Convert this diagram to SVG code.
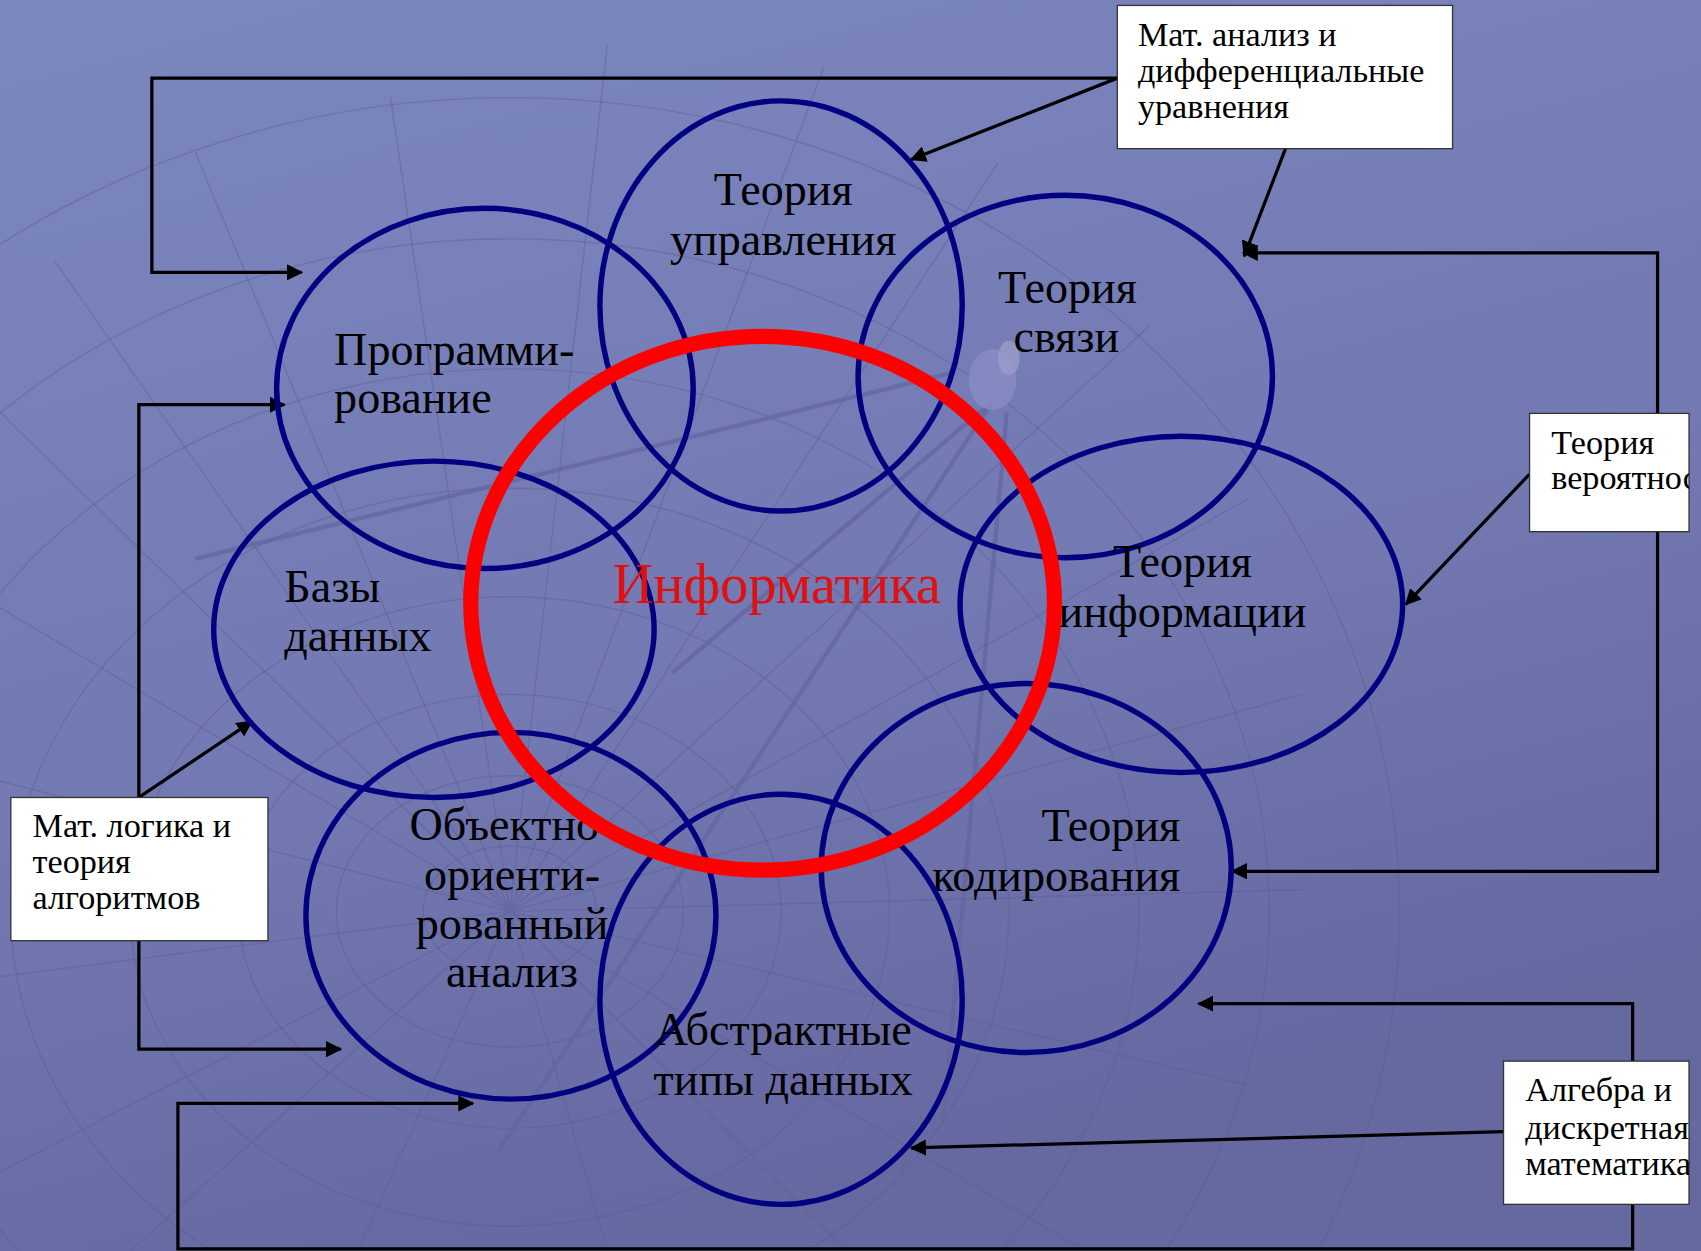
<svg xmlns="http://www.w3.org/2000/svg" width="1701" height="1251" viewBox="0 0 1701 1251">
<defs>
<linearGradient id="bg" x1="0" y1="0" x2="0.35" y2="1">
<stop offset="0" stop-color="#7c87bf"/>
<stop offset="0.6" stop-color="#7379b2"/>
<stop offset="1" stop-color="#6668a0"/>
</linearGradient>
<marker id="ah" viewBox="0 0 10 10" refX="9" refY="5" markerWidth="5" markerHeight="5" orient="auto" markerUnits="strokeWidth">
<path d="M0,0 L10,5 L0,10 z" fill="#000"/>
</marker>
<clipPath id="clipB" clipPathUnits="userSpaceOnUse"><rect x="1410" y="381" width="147" height="109"/></clipPath>
<clipPath id="clipD" clipPathUnits="userSpaceOnUse"><rect x="1386" y="978" width="171" height="132"/></clipPath>
</defs>
<style>
.ell{fill:none;stroke:#000080;stroke-width:5}
.lbl{font-family:"Liberation Serif","Times New Roman",serif;font-size:42.5px;fill:#000}
.box{fill:#fff;stroke:#333;stroke-width:1.2}
.bt{font-family:"Liberation Serif","Times New Roman",serif;font-size:31.5px;fill:#000}
.con{fill:none;stroke:#000;stroke-width:3}
.mesh{fill:none;stroke:#5a5a92;stroke-width:1.3;opacity:0.4}
.beam{fill:none;stroke:#6464a0;stroke-width:4;opacity:0.7}
</style>
<rect x="0" y="0" width="1701" height="1251" fill="url(#bg)"/>
<g transform="scale(1.0848 1.085)">
<g id="background-mesh">
<ellipse class="mesh" cx="470" cy="840" rx="80" ry="60"/>
<ellipse class="mesh" cx="470" cy="840" rx="160" ry="125"/>
<ellipse class="mesh" cx="470" cy="840" rx="250" ry="200"/>
<ellipse class="mesh" cx="470" cy="840" rx="350" ry="290"/>
<ellipse class="mesh" cx="470" cy="840" rx="460" ry="390"/>
<ellipse class="mesh" cx="470" cy="840" rx="580" ry="500"/>
<ellipse class="mesh" cx="470" cy="840" rx="700" ry="620"/>
<ellipse class="mesh" cx="470" cy="840" rx="820" ry="750"/>
<path class="mesh" d="M470,840 L0,380 M470,840 L0,560 M470,840 L0,720 M470,840 L0,900 M470,840 L0,1080 M470,840 L120,1153 M470,840 L330,1153 M470,840 L560,1153 M470,840 L780,1153 M470,840 L1000,1153 M470,840 L1150,1000 M470,840 L1200,820 M470,840 L1200,640 M470,840 L1150,460 M470,840 L1060,300 M470,840 L920,150 M470,840 L760,60 M470,840 L560,40 M470,840 L360,90 M470,840 L180,140 M470,840 L50,240"/>
<path class="beam" d="M180,515 L880,343"/>
<path class="beam" d="M915,370 L620,620"/>
<path class="beam" d="M915,370 L460,1060"/>
<path class="beam" d="M928,380 L870,1030"/>
<ellipse cx="915" cy="350" rx="22" ry="28" fill="#8a8cc4" opacity="0.8"/>
<ellipse cx="930" cy="330" rx="10" ry="16" fill="#9a9ccc" opacity="0.8"/>
</g>
<g id="connectors">
<path class="con" d="M1030,72 H140 V251 H278" marker-end="url(#ah)"/>
<path class="con" d="M1030,72 L840,147" marker-end="url(#ah)"/>
<path class="con" d="M1185,137 L1147,236" marker-end="url(#ah)"/>
<path class="con" d="M1528,381 V233 H1146" marker-end="url(#ah)"/>
<path class="con" d="M1528,490 V803 H1136" marker-end="url(#ah)"/>
<path class="con" d="M1410,437 L1296,557" marker-end="url(#ah)"/>
<path class="con" d="M128,735 V373 H262" marker-end="url(#ah)"/>
<path class="con" d="M128,735 L232,665" marker-end="url(#ah)"/>
<path class="con" d="M128,867 V967 H314" marker-end="url(#ah)"/>
<path class="con" d="M1505,978 V925 H1105" marker-end="url(#ah)"/>
<path class="con" d="M1386,1043 L840,1058" marker-end="url(#ah)"/>
<path class="con" d="M1505,1110 V1151 H164 V1017 H436" marker-end="url(#ah)"/>
</g>
<g id="node-programming">
<text class="lbl" x="308" y="336">Программи-</text>
<text class="lbl" x="308" y="381">рование</text>
<ellipse class="ell" cx="447" cy="358" rx="192" ry="166"/>
</g>
<g id="node-control">
<text class="lbl" x="722" y="189" text-anchor="middle">Теория</text>
<text class="lbl" x="722" y="235" text-anchor="middle">управления</text>
<ellipse class="ell" cx="720" cy="282" rx="167" ry="189"/>
</g>
<g id="node-communication">
<text class="lbl" x="984" y="279" text-anchor="middle">Теория</text>
<text class="lbl" x="983" y="324" text-anchor="middle">связи</text>
<ellipse class="ell" cx="982" cy="347" rx="191" ry="167"/>
</g>
<g id="node-databases">
<text class="lbl" x="262" y="555">Базы</text>
<text class="lbl" x="262" y="600">данных</text>
<ellipse class="ell" cx="400" cy="580" rx="203" ry="155"/>
</g>
<g id="node-information">
<text class="lbl" x="1090" y="532" text-anchor="middle">Теория</text>
<text class="lbl" x="1090" y="578" text-anchor="middle">информации</text>
<ellipse class="ell" cx="1089" cy="557" rx="204" ry="155"/>
</g>
<g id="node-coding">
<text class="lbl" x="1088" y="775" text-anchor="end">Теория</text>
<text class="lbl" x="1088" y="821" text-anchor="end">кодирования</text>
<ellipse class="ell" cx="946" cy="800" rx="189" ry="170"/>
</g>
<g id="node-ooa">
<text class="lbl" x="472" y="774" text-anchor="middle">Объектно-</text>
<text class="lbl" x="472" y="820" text-anchor="middle">ориенти-</text>
<text class="lbl" x="472" y="865" text-anchor="middle">рованный</text>
<text class="lbl" x="472" y="910" text-anchor="middle">анализ</text>
<ellipse class="ell" cx="471" cy="844" rx="189" ry="169"/>
</g>
<g id="node-adt">
<text class="lbl" x="722" y="963" text-anchor="middle">Абстрактные</text>
<text class="lbl" x="722" y="1009" text-anchor="middle">типы данных</text>
<ellipse class="ell" cx="720" cy="921" rx="167" ry="189"/>
</g>
<g id="node-informatics">
<text x="716" y="556" text-anchor="middle" font-family="'Liberation Serif','Times New Roman',serif" font-size="52" fill="#e01010">Информатика</text>
<ellipse cx="703" cy="556" rx="269" ry="246" fill="none" stroke="#ff0000" stroke-width="14"/>
</g>
<g id="box-analysis">
<rect class="box" x="1030" y="5" width="309" height="132"/>
<text class="bt" x="1049" y="42">Мат. анализ и</text>
<text class="bt" x="1049" y="76">дифференциальные</text>
<text class="bt" x="1049" y="109">уравнения</text>
</g>
<g id="box-probability">
<rect class="box" x="1410" y="381" width="147" height="109"/>
<g clip-path="url(#clipB)">
<text class="bt" x="1430" y="418">Теория</text>
<text class="bt" x="1430" y="451">вероятностей</text>
</g>
</g>
<g id="box-logic">
<rect class="box" x="10" y="735" width="237" height="132"/>
<text class="bt" x="30" y="771">Мат. логика и</text>
<text class="bt" x="30" y="805">теория</text>
<text class="bt" x="30" y="838">алгоритмов</text>
</g>
<g id="box-algebra">
<rect class="box" x="1386" y="978" width="171" height="132"/>
<g clip-path="url(#clipD)">
<text class="bt" x="1406" y="1015">Алгебра и</text>
<text class="bt" x="1406" y="1050">дискретная</text>
<text class="bt" x="1406" y="1083">математика</text>
</g>
</g>
</g>
</svg>
